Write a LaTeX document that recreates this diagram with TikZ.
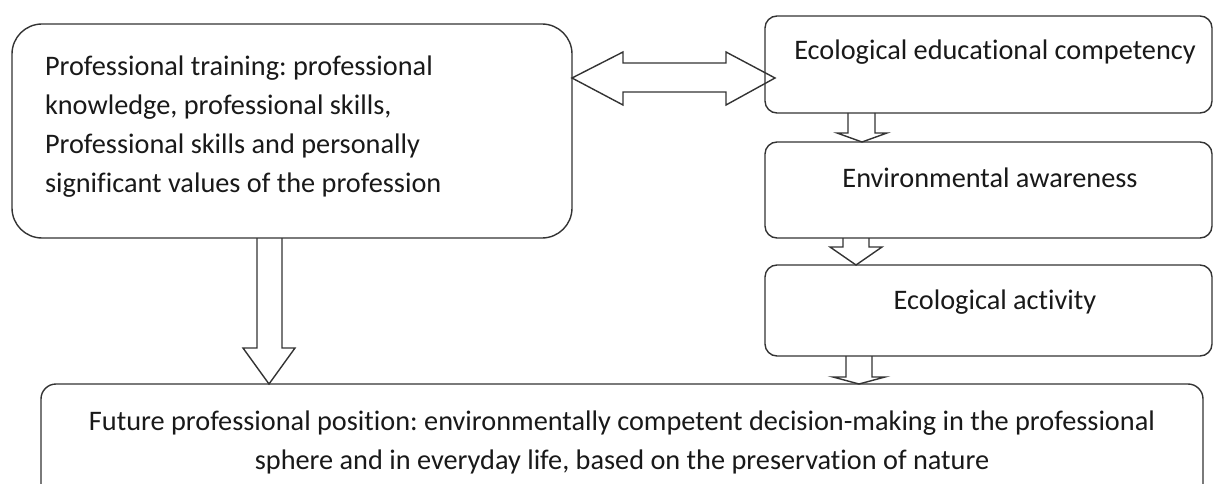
\documentclass[tikz,border=0pt]{standalone}
\usepackage{fontspec}
\setmainfont[Ligatures=NoCommon]{Carlito}
\frenchspacing
\begin{document}
\begin{tikzpicture}[x=1pt,y=-1pt,
  boxstyle/.style={draw=black!80, line width=1.4pt, rectangle, inner sep=0pt, outer sep=0pt},
  txt/.style={inner sep=0pt, outer sep=0pt, text=black!90, font=\fontsize{28.3}{39}\selectfont\frenchspacing},
  blockarrow/.style={draw=black!80, line width=1.4pt, line join=miter}]
\useasboundingbox (0,0) rectangle (1215,484);
\clip (0,0) rectangle (1215,484);
% boxes
\node[boxstyle, rounded corners=30pt, minimum width=560pt, minimum height=214pt] (A) at (292,131) {};
\node[boxstyle, rounded corners=12pt, minimum width=447pt, minimum height=97pt] (B) at (988.5,64.5) {};
\node[boxstyle, rounded corners=12pt, minimum width=447pt, minimum height=96pt] (C) at (988.5,190) {};
\node[boxstyle, rounded corners=12pt, minimum width=447pt, minimum height=91pt] (D) at (988.5,310.5) {};
\node[boxstyle, rounded corners=15pt, minimum width=1162pt, minimum height=116pt] (E) at (622,442) {};
% texts
\node[txt, anchor=west, align=left] (tA) at (45,126.5) {Professional training: professional\\knowledge, professional skills,\\Professional skills and personally\\significant values of the profession};
\node[txt, anchor=base] (tB) at (995,60) {Ecological educational competency};
\node[txt, anchor=base] (tC) at (990,187) {Environmental awareness};
\node[txt, anchor=base] (tD) at (995,309) {Ecological activity};
\node[txt, align=center] (tE) at (622,442.5) {Future professional position: environmentally competent decision-making in the professional\\sphere and in everyday life, based on the preservation of nature};
% double arrow A <-> B
\draw[blockarrow] (A.east |- 0,78) -- (623,52) -- (623,63) -- (726,63) -- (726,52) -- (775,78) -- (726,105) -- (726,92) -- (623,92) -- (623,105) -- cycle;
% B -> C
\draw[blockarrow] (848,0 |- B.south) -- (848,133) -- (837,133) -- (862,0 |- C.north) -- (887,133) -- (875,133) -- (875,0 |- B.south);
% C -> D
\draw[blockarrow] (843,0 |- C.south) -- (843,247) -- (830,247) -- (856,0 |- D.north) -- (882,247) -- (869,247) -- (869,0 |- C.south);
% D -> E
\draw[blockarrow] (846,0 |- D.south) -- (846,377) -- (833,377) -- (859,0 |- E.north) -- (885,377) -- (872,377) -- (872,0 |- D.south);
% A -> E
\draw[blockarrow] (257,0 |- A.south) -- (257,348) -- (243,348) -- (269,0 |- E.north) -- (295,348) -- (282,348) -- (282,0 |- A.south);
\end{tikzpicture}
\end{document}
